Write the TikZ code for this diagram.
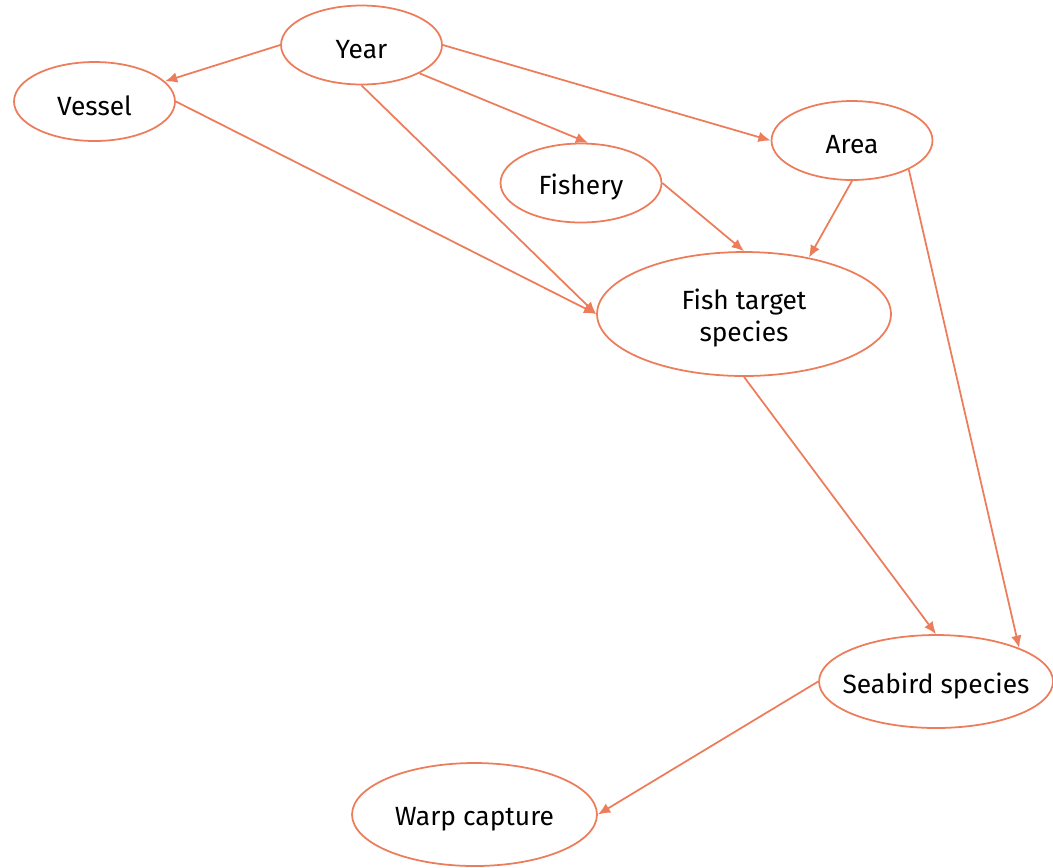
\documentclass[tikz,border=0pt]{standalone}
\usepackage{fontspec}
\setmainfont{Fira Sans}
\usetikzlibrary{arrows.meta,shapes.geometric}
\definecolor{dagorange}{RGB}{237,125,90}

\begin{document}
\begin{tikzpicture}[x=0.02cm,y=-0.02cm,
	font=\fontsize{15}{18.2}\selectfont,
	every label/.style={yshift=-2.5pt},
	var/.style={ellipse,draw=dagorange,line width=1pt},
	small/.style={var,minimum width=3.22cm,minimum height=1.58cm},
	>={Latex[length=7pt,width=6pt]}]
\useasboundingbox (0,0) rectangle (1053,867);
\node[small,label=center:Year] (year) at (361.5,45) {};
\node[small,label=center:Vessel] (vessel) at (94.5,101.5) {};
\node[small,label=center:Fishery] (fishery) at (581,183) {};
\node[small,label=center:Area] (area) at (852,140.5) {};
\node[var,minimum width=5.88cm,minimum height=2.48cm,
	label={[align=center]center:Fish target\\species}] (fish) at (744,314) {};
\node[var,minimum width=4.68cm,minimum height=1.86cm,
	label=center:Seabird species] (seabird) at (936,681.5) {};
\node[var,minimum width=4.9cm,minimum height=2.06cm,
	label=center:Warp capture] (warp) at (474.5,814.5) {};
\draw [->,dagorange,line width=1pt](year.west)--(vessel.16);
\draw [->,dagorange,line width=1pt](year.south)--(fish.west);
\draw [->,dagorange,line width=1pt](vessel.east)--(fish.west);
\draw [->,dagorange,line width=1pt](year.-26)--(fishery.80);
\draw [->,dagorange,line width=1pt](year.east)--(area.west);
\draw [->,dagorange,line width=1pt](fishery.east)--(fish.north);
\draw [->,dagorange,line width=1pt](area.south)--(fish.41);
\draw [->,dagorange,line width=1pt](area.-27)--(seabird.22);
\draw [->,dagorange,line width=1pt](fish.south)--(seabird.north);
\draw [->,dagorange,line width=1pt](seabird.west)--(warp.east);
\end{tikzpicture}
\end{document}
